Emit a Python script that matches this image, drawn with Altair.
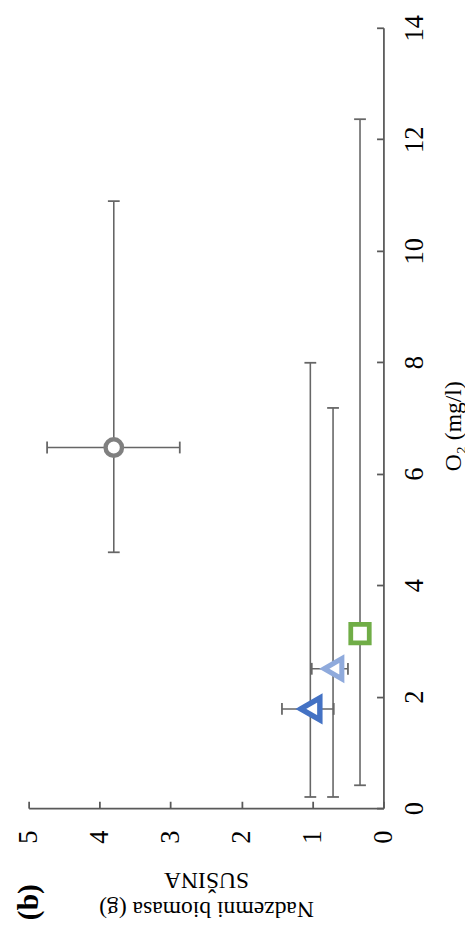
import altair as alt
import pandas as pd

# ---- data (original orientation: x = O2, y = biomass) ----
series = ["s1", "s2", "s3", "s4"]
o2 = [1.78, 2.50, 3.13, 6.47]
o2_lo = [0.20, 0.20, 0.41, 4.59]
o2_hi = [7.99, 7.18, 12.36, 10.89]
bio = [1.03, 0.71, 0.33, 3.80]
bio_lo = [0.70, 0.50, 0.33, 2.87]
bio_hi = [1.43, 1.01, 0.33, 4.74]

x_ticks = [0, 1, 2, 3, 4, 5]
y_ticks = [0, 2, 4, 6, 8, 10, 12, 14]

# ---- styles ----
shapes = ["triangle-left", "triangle-left", "square", "circle"]
colors = ["#4472C4", "#8FAADC", "#70AD47", "#808080"]
sizes = [500, 280, 300, 380]
widths = [5.5, 4.5, 5.0, 5.0]

FONT = "Liberation Serif"
AX = "#595959"
EB = "#666666"
W, H = 361, 794

df = pd.DataFrame(dict(series=series, o2=o2, o2_lo=o2_lo, o2_hi=o2_hi,
                       bio=bio, bio_lo=bio_lo, bio_hi=bio_hi))

xs = alt.Scale(domain=[0, 5], reverse=True, nice=False, zero=False)
ys = alt.Scale(domain=[0, 14], nice=False, zero=False)

main_x = alt.Axis(orient="bottom", values=x_ticks, grid=False, domain=True,
                  domainColor=AX, domainWidth=1.8, ticks=False, tickSize=0,
                  labelAngle=270, labelAlign="center", labelBaseline="middle",
                  labelPadding=29, labelFont=FONT, labelFontSize=27,
                  labelColor="#000000", labelFlush=False, labelOverlap=False,
                  title=["Nadzemni biomasa (g)", "SUŠINA"], titleAngle=180,
                  titleFont=FONT, titleFontSize=24, titleFontWeight="normal",
                  titleColor="#000000", titleX=W / 2, titleY=90,
                  titleAlign="center", titleBaseline="bottom", titleLineHeight=30)
tick_x = alt.Axis(orient="bottom", values=x_ticks, grid=False, domain=False,
                  labels=False, ticks=True, tickSize=7, tickWidth=1.8,
                  tickColor=AX, offset=-7, title=None)
main_y = alt.Axis(orient="right", values=y_ticks, grid=False, domain=True,
                  domainColor=AX, domainWidth=1.8, ticks=False, tickSize=0,
                  labelAngle=270, labelAlign="center", labelBaseline="middle",
                  labelPadding=32, labelFont=FONT, labelFontSize=27,
                  labelColor="#000000", labelFlush=False, labelOverlap=False,
                  title="O₂ (mg/l)", titleAngle=270, titleFont=FONT,
                  titleFontSize=24, titleFontWeight="normal", titleColor="#000000",
                  titleX=71, titleY=H / 2 + 8, titleAlign="center",
                  titleBaseline="middle")
tick_y = alt.Axis(orient="right", values=y_ticks, grid=False, domain=False,
                  labels=False, ticks=True, tickSize=7, tickWidth=1.8,
                  tickColor=AX, offset=-7, title=None)

base = alt.Chart(df)

o2_err = base.mark_rule(color=EB, strokeWidth=1.6).encode(
    x=alt.X("bio:Q", scale=xs, axis=main_x),
    y=alt.Y("o2_lo:Q", scale=ys, axis=main_y),
    y2="o2_hi:Q",
)
bio_err = base.mark_rule(color=EB, strokeWidth=1.6).encode(
    x=alt.X("bio_lo:Q", scale=xs, axis=tick_x),
    x2="bio_hi:Q",
    y=alt.Y("o2:Q", scale=ys, axis=tick_y),
)
cap_o2_lo = base.mark_tick(orient="horizontal", size=12, thickness=1.8, color=EB, opacity=1).encode(
    x=alt.X("bio:Q", scale=xs, axis=None), y=alt.Y("o2_lo:Q", scale=ys, axis=None))
cap_o2_hi = base.mark_tick(orient="horizontal", size=12, thickness=1.8, color=EB, opacity=1).encode(
    x=alt.X("bio:Q", scale=xs, axis=None), y=alt.Y("o2_hi:Q", scale=ys, axis=None))
cap_bio_lo = base.mark_tick(orient="vertical", size=12, thickness=1.8, color=EB, opacity=1).encode(
    x=alt.X("bio_lo:Q", scale=xs, axis=None), y=alt.Y("o2:Q", scale=ys, axis=None))
cap_bio_hi = base.mark_tick(orient="vertical", size=12, thickness=1.8, color=EB, opacity=1).encode(
    x=alt.X("bio_hi:Q", scale=xs, axis=None), y=alt.Y("o2:Q", scale=ys, axis=None))

points = base.mark_point(filled=True, fill="white", fillOpacity=1, strokeOpacity=1,
                         opacity=1, strokeJoin="miter").encode(
    x=alt.X("bio:Q", scale=xs, axis=None),
    y=alt.Y("o2:Q", scale=ys, axis=None),
    shape=alt.Shape("series:N", scale=alt.Scale(domain=series, range=shapes), legend=None),
    stroke=alt.Stroke("series:N", scale=alt.Scale(domain=series, range=colors), legend=None),
    size=alt.Size("series:O", scale=alt.Scale(domain=series, range=sizes), legend=None),
    strokeWidth=alt.StrokeWidth("series:O", scale=alt.Scale(domain=series, range=widths), legend=None),
)

chart = alt.layer(
    o2_err, bio_err, cap_o2_lo, cap_o2_hi, cap_bio_lo, cap_bio_hi, points
).resolve_axis(
    x="independent", y="independent"
).properties(
    width=W, height=H,
    title=alt.TitleParams(text="(b)", orient="bottom", anchor="start", angle=270,
                          font=FONT, fontSize=30, fontWeight="bold", color="#000000",
                          offset=0),
    autosize=alt.AutoSizeParams(type="none"),
    padding={"left": 21, "top": 12, "right": 83, "bottom": 124},
).configure_view(
    strokeWidth=0, stroke=None
)

chart.save("out.html", embed_options={"renderer": "svg", "actions": False})
